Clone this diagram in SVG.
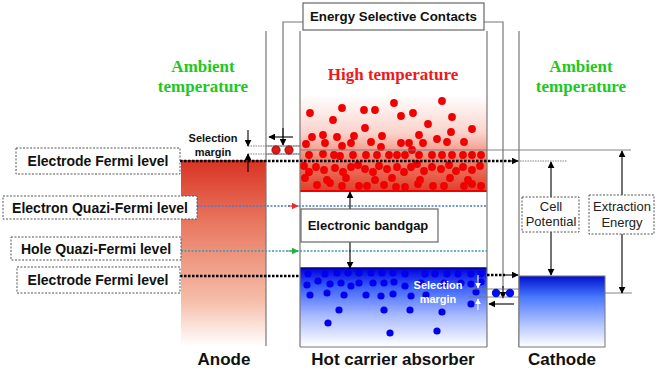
<svg xmlns="http://www.w3.org/2000/svg" width="668" height="370" viewBox="0 0 668 370">
<defs>
<linearGradient id="gRedTop" x1="0" y1="0" x2="0" y2="1">
<stop offset="0" stop-color="#ffffff"/>
<stop offset="0.4" stop-color="#fad2ca"/>
<stop offset="0.7" stop-color="#ef7a64"/>
<stop offset="1" stop-color="#e0402c"/>
</linearGradient>
<linearGradient id="gAnode" x1="0" y1="0" x2="0" y2="1">
<stop offset="0" stop-color="#d93323"/>
<stop offset="0.35" stop-color="#e97a62"/>
<stop offset="0.75" stop-color="#f5bca8"/>
<stop offset="1" stop-color="#ffffff"/>
</linearGradient>
<linearGradient id="gBlue" x1="0" y1="0" x2="0" y2="1">
<stop offset="0" stop-color="#0000d8"/>
<stop offset="0.25" stop-color="#3a60ff"/>
<stop offset="0.6" stop-color="#a6b8ff"/>
<stop offset="1" stop-color="#ffffff"/>
</linearGradient>
<linearGradient id="gCath" x1="0" y1="0" x2="0" y2="1">
<stop offset="0" stop-color="#0010d0"/>
<stop offset="0.3" stop-color="#4a78ff"/>
<stop offset="0.7" stop-color="#b8c8ff"/>
<stop offset="1" stop-color="#ffffff"/>
</linearGradient>
<marker id="ah" viewBox="0 0 10 10" refX="9" refY="5" markerWidth="7" markerHeight="7" orient="auto-start-reverse" markerUnits="userSpaceOnUse"><path d="M0,0 L10,5 L0,10 z" fill="#000"/></marker>
<marker id="ahW" viewBox="0 0 10 10" refX="9" refY="5" markerWidth="6" markerHeight="6" orient="auto-start-reverse" markerUnits="userSpaceOnUse"><path d="M0,0 L10,5 L0,10 z" fill="#fff"/></marker>
<marker id="ahR" viewBox="0 0 10 10" refX="9" refY="5" markerWidth="7" markerHeight="7" orient="auto" markerUnits="userSpaceOnUse"><path d="M0,0 L10,5 L0,10 z" fill="#e03030"/></marker>
<marker id="ahG" viewBox="0 0 10 10" refX="9" refY="5" markerWidth="7" markerHeight="7" orient="auto" markerUnits="userSpaceOnUse"><path d="M0,0 L10,5 L0,10 z" fill="#20b040"/></marker>
</defs>
<style>
.lbl{font-family:"Liberation Sans",Arial,sans-serif;font-weight:bold;font-size:14px;fill:#111;text-anchor:middle}
.big{font-family:"Liberation Sans",Arial,sans-serif;font-weight:bold;font-size:17px;fill:#111;text-anchor:middle}
.reg{font-family:"Liberation Sans",Arial,sans-serif;font-size:13px;fill:#222;text-anchor:middle}
.sm{font-family:"Liberation Sans",Arial,sans-serif;font-weight:bold;font-size:11px;fill:#111;text-anchor:middle}
.smw{font-family:"Liberation Sans",Arial,sans-serif;font-weight:bold;font-size:11px;fill:#fff;text-anchor:middle}
.grn{font-family:"Liberation Serif","Times New Roman",serif;font-weight:bold;font-size:17px;fill:#1ec81e;text-anchor:middle}
.hot{font-family:"Liberation Serif","Times New Roman",serif;font-weight:bold;font-size:17px;fill:#f01818;text-anchor:middle}
.dbox{fill:#fff;stroke:#555;stroke-width:1;stroke-dasharray:2 1.5}
.sbox{fill:#fff;stroke:#666;stroke-width:1.2}
.vl{stroke:#777;stroke-width:1.2;fill:none}
.thin{stroke:#777;stroke-width:0.9;fill:none}
.dthin{stroke:#777;stroke-width:0.9;stroke-dasharray:1.5 1;fill:none}
.blk{stroke:#000;stroke-width:1.1;fill:none}
.fermi{stroke:#000;stroke-width:2.4;stroke-dasharray:2.5 1.5;fill:none}
.eq{stroke:#4a7ad0;stroke-width:1.6;stroke-dasharray:2 1.5;fill:none}
.hq{stroke:#3a9ab0;stroke-width:1.6;stroke-dasharray:2 1.5;fill:none}
.rd{fill:#f00000}
.bd{fill:#0000ee}
</style>

<g id="regions">
<rect x="181" y="160" width="85" height="186" fill="url(#gAnode)"/>
<rect x="300" y="95" width="187" height="96" fill="url(#gRedTop)"/>
<rect x="300" y="268" width="187" height="78" fill="url(#gBlue)"/>
<line x1="300" y1="191" x2="487" y2="191" stroke="#f00000" stroke-width="2"/>
<line x1="300" y1="268" x2="487" y2="268" stroke="#000090" stroke-width="1.5"/>
</g>

<g id="frame-lines">
<line class="vl" x1="266" y1="31" x2="266" y2="346"/>
<line class="vl" x1="300" y1="31" x2="300" y2="347"/>
<line class="vl" x1="487" y1="31" x2="487" y2="347"/>
<line class="vl" x1="519" y1="31" x2="519" y2="347"/>
<line class="vl" x1="300" y1="347" x2="487" y2="347"/>
</g>

<g id="red-dots">
<circle class="rd" cx="310" cy="113" r="3.9"/><circle class="rd" cx="333" cy="120" r="3.9"/><circle class="rd" cx="342" cy="108" r="3.9"/><circle class="rd" cx="364" cy="110" r="3.9"/><circle class="rd" cx="375" cy="110" r="3.9"/><circle class="rd" cx="394" cy="103" r="3.9"/><circle class="rd" cx="401" cy="116" r="3.9"/><circle class="rd" cx="413" cy="113" r="3.9"/><circle class="rd" cx="428" cy="124" r="3.9"/><circle class="rd" cx="442" cy="101" r="3.9"/><circle class="rd" cx="452" cy="117" r="3.9"/><circle class="rd" cx="365" cy="128" r="3.9"/><circle class="rd" cx="472" cy="129" r="3.9"/>
<circle class="rd" cx="312" cy="137" r="3.9"/><circle class="rd" cx="323" cy="135" r="3.9"/><circle class="rd" cx="306" cy="144" r="3.9"/><circle class="rd" cx="325" cy="143" r="3.9"/><circle class="rd" cx="337" cy="137" r="3.9"/><circle class="rd" cx="342" cy="146" r="3.9"/><circle class="rd" cx="351" cy="143" r="3.9"/><circle class="rd" cx="354" cy="136" r="3.9"/><circle class="rd" cx="371" cy="142" r="3.9"/><circle class="rd" cx="382" cy="136" r="3.9"/><circle class="rd" cx="381" cy="147" r="3.9"/><circle class="rd" cx="401" cy="143" r="3.9"/><circle class="rd" cx="409" cy="143" r="3.9"/><circle class="rd" cx="412" cy="150" r="3.9"/><circle class="rd" cx="419" cy="135" r="3.9"/><circle class="rd" cx="423" cy="143" r="3.9"/><circle class="rd" cx="437" cy="139" r="3.9"/><circle class="rd" cx="447" cy="142" r="3.9"/><circle class="rd" cx="451" cy="132" r="3.9"/><circle class="rd" cx="464" cy="142" r="3.9"/>
<circle class="rd" cx="309" cy="155" r="3.9"/><circle class="rd" cx="323" cy="154" r="3.9"/><circle class="rd" cx="334" cy="155" r="3.9"/><circle class="rd" cx="340" cy="156" r="3.9"/><circle class="rd" cx="353" cy="155" r="3.9"/><circle class="rd" cx="366" cy="155" r="3.9"/><circle class="rd" cx="377" cy="155" r="3.9"/><circle class="rd" cx="389" cy="155" r="3.9"/><circle class="rd" cx="397" cy="155" r="3.9"/><circle class="rd" cx="405" cy="155" r="3.9"/><circle class="rd" cx="419" cy="155" r="3.9"/><circle class="rd" cx="432" cy="155" r="3.9"/><circle class="rd" cx="442" cy="155" r="3.9"/><circle class="rd" cx="452" cy="155" r="3.9"/><circle class="rd" cx="463" cy="155" r="3.9"/><circle class="rd" cx="472" cy="155" r="3.9"/><circle class="rd" cx="481" cy="155" r="3.9"/>
<circle class="rd" cx="304" cy="166" r="3.9"/><circle class="rd" cx="309" cy="172" r="3.9"/><circle class="rd" cx="316" cy="167" r="3.9"/><circle class="rd" cx="324" cy="170" r="3.9"/><circle class="rd" cx="335" cy="168" r="3.9"/><circle class="rd" cx="343" cy="172" r="3.9"/><circle class="rd" cx="351" cy="167" r="3.9"/><circle class="rd" cx="358" cy="165" r="3.9"/><circle class="rd" cx="365" cy="169" r="3.9"/><circle class="rd" cx="373" cy="172" r="3.9"/><circle class="rd" cx="379" cy="166" r="3.9"/><circle class="rd" cx="387" cy="169" r="3.9"/><circle class="rd" cx="397" cy="167" r="3.9"/><circle class="rd" cx="404" cy="172" r="3.9"/><circle class="rd" cx="411" cy="167" r="3.9"/><circle class="rd" cx="417" cy="164" r="3.9"/><circle class="rd" cx="424" cy="171" r="3.9"/><circle class="rd" cx="432" cy="167" r="3.9"/><circle class="rd" cx="441" cy="169" r="3.9"/><circle class="rd" cx="449" cy="165" r="3.9"/><circle class="rd" cx="456" cy="171" r="3.9"/><circle class="rd" cx="463" cy="167" r="3.9"/><circle class="rd" cx="472" cy="170" r="3.9"/><circle class="rd" cx="480" cy="166" r="3.9"/>
<circle class="rd" cx="305" cy="178" r="3.9"/><circle class="rd" cx="327" cy="180" r="3.9"/><circle class="rd" cx="346" cy="178" r="3.9"/><circle class="rd" cx="375" cy="180" r="3.9"/><circle class="rd" cx="392" cy="178" r="3.9"/><circle class="rd" cx="420" cy="180" r="3.9"/><circle class="rd" cx="450" cy="178" r="3.9"/><circle class="rd" cx="468" cy="180" r="3.9"/>
<circle class="rd" cx="317" cy="185" r="3.9"/><circle class="rd" cx="330" cy="183" r="3.9"/><circle class="rd" cx="342" cy="186" r="3.9"/><circle class="rd" cx="359" cy="186" r="3.9"/><circle class="rd" cx="367" cy="186" r="3.9"/><circle class="rd" cx="384" cy="185" r="3.9"/><circle class="rd" cx="396" cy="187" r="3.9"/><circle class="rd" cx="405" cy="187" r="3.9"/><circle class="rd" cx="418" cy="184" r="3.9"/><circle class="rd" cx="433" cy="186" r="3.9"/><circle class="rd" cx="444" cy="186" r="3.9"/><circle class="rd" cx="464" cy="186" r="3.9"/><circle class="rd" cx="472" cy="184" r="3.9"/><circle class="rd" cx="481" cy="186" r="3.9"/>
</g>

<g id="blue-dots">
<circle class="bd" cx="308" cy="274" r="3.6"/><circle class="bd" cx="325" cy="274" r="3.6"/><circle class="bd" cx="337" cy="273" r="3.6"/><circle class="bd" cx="348" cy="273" r="3.6"/><circle class="bd" cx="359" cy="273" r="3.6"/><circle class="bd" cx="371" cy="273" r="3.6"/><circle class="bd" cx="382" cy="273" r="3.6"/><circle class="bd" cx="393" cy="273" r="3.6"/><circle class="bd" cx="405" cy="274" r="3.6"/><circle class="bd" cx="425" cy="274" r="3.6"/><circle class="bd" cx="435" cy="274" r="3.6"/><circle class="bd" cx="447" cy="274" r="3.6"/><circle class="bd" cx="458" cy="274" r="3.6"/><circle class="bd" cx="471" cy="274" r="3.6"/><circle class="bd" cx="481" cy="274" r="3.6"/>
<circle class="bd" cx="307" cy="285" r="3.6"/><circle class="bd" cx="318" cy="281" r="3.6"/><circle class="bd" cx="330" cy="284" r="3.6"/><circle class="bd" cx="341" cy="283" r="3.6"/><circle class="bd" cx="351" cy="286" r="3.6"/><circle class="bd" cx="359" cy="283" r="3.6"/><circle class="bd" cx="373" cy="283" r="3.6"/><circle class="bd" cx="384" cy="283" r="3.6"/><circle class="bd" cx="394" cy="282" r="3.6"/><circle class="bd" cx="405" cy="286" r="3.6"/><circle class="bd" cx="421" cy="283" r="3.6"/><circle class="bd" cx="444" cy="283" r="3.6"/><circle class="bd" cx="461" cy="283" r="3.6"/><circle class="bd" cx="471" cy="284" r="3.6"/><circle class="bd" cx="481" cy="282" r="3.6"/>
<circle class="bd" cx="310" cy="295" r="3.6"/><circle class="bd" cx="327" cy="293" r="3.6"/><circle class="bd" cx="344" cy="295" r="3.6"/><circle class="bd" cx="366" cy="295" r="3.6"/><circle class="bd" cx="381" cy="296" r="3.6"/><circle class="bd" cx="393" cy="294" r="3.6"/><circle class="bd" cx="411" cy="296" r="3.6"/><circle class="bd" cx="426" cy="295" r="3.6"/><circle class="bd" cx="476" cy="292" r="3.6"/>
<circle class="bd" cx="339" cy="310" r="3.6"/><circle class="bd" cx="384" cy="310" r="3.6"/><circle class="bd" cx="410" cy="310" r="3.6"/><circle class="bd" cx="442" cy="312" r="3.6"/><circle class="bd" cx="471" cy="304" r="3.6"/>
<circle class="bd" cx="328" cy="323" r="3.6"/><circle class="bd" cx="390" cy="333" r="3.6"/><circle class="bd" cx="437" cy="331" r="3.6"/>
</g>

<g id="cathode">
<rect x="519" y="276" width="86" height="71" fill="url(#gCath)" stroke="#777" stroke-width="1"/>
</g>

<g id="connectors">
<polyline class="vl" points="303,22 283,22 283,138"/>
<line class="blk" x1="283" y1="128" x2="283" y2="145" marker-end="url(#ah)"/>
<polyline class="vl" points="484,22 503,22 503,290"/>
<line class="blk" x1="503" y1="286" x2="503" y2="298" marker-end="url(#ah)"/>
<line class="dthin" x1="248" y1="146" x2="300" y2="146"/>
<line class="dthin" x1="248" y1="154" x2="300" y2="154"/>
<line class="thin" x1="266" y1="146" x2="300" y2="146"/>
<line class="thin" x1="266" y1="154" x2="300" y2="154"/>
<line class="thin" x1="300" y1="150" x2="631" y2="150"/>
<line class="dthin" x1="515" y1="161" x2="567" y2="161"/>
<line class="thin" x1="605" y1="293" x2="632" y2="293"/>
<line class="thin" x1="468" y1="289" x2="519" y2="289"/>
<line class="thin" x1="468" y1="297" x2="519" y2="297"/>
<line class="fermi" x1="180" y1="161" x2="512" y2="161"/>
<line class="blk" x1="508" y1="161" x2="518" y2="161" marker-end="url(#ah)"/>
<line class="fermi" x1="180" y1="276" x2="300" y2="276"/>
<line class="fermi" x1="487" y1="275" x2="505" y2="275"/>
<line class="blk" x1="503" y1="275" x2="518" y2="275" marker-end="url(#ah)"/>
<line class="eq" x1="197" y1="206" x2="487" y2="206"/>
<line x1="288" y1="206" x2="298" y2="206" stroke="#e03030" stroke-width="1" marker-end="url(#ahR)"/>
<line class="hq" x1="181" y1="251" x2="487" y2="251"/>
<line x1="288" y1="251" x2="298" y2="251" stroke="#20b040" stroke-width="1" marker-end="url(#ahG)"/>
<circle cx="276" cy="150" r="4.2" fill="#e01818" stroke="#600" stroke-width="0.6"/>
<circle cx="289" cy="150" r="4.2" fill="#e01818" stroke="#600" stroke-width="0.6"/>
<circle cx="496" cy="293" r="4.2" fill="#0010e8"/>
<circle cx="510" cy="293" r="4.2" fill="#0010e8"/>
<line class="blk" x1="293" y1="137" x2="269" y2="137" marker-end="url(#ah)"/>
<line class="blk" x1="514" y1="304" x2="489" y2="304" marker-end="url(#ah)"/>
<line class="blk" x1="248" y1="130" x2="248" y2="146" marker-end="url(#ah)"/>
<line class="blk" x1="248" y1="172" x2="248" y2="154" marker-end="url(#ah)"/>
<line x1="478" y1="275" x2="478" y2="288" stroke="#fff" stroke-width="1.1" marker-end="url(#ahW)"/>
<line x1="478" y1="310" x2="478" y2="299" stroke="#fff" stroke-width="1.1" marker-end="url(#ahW)"/>
<line class="blk" x1="350" y1="209" x2="350" y2="192" marker-end="url(#ah)"/>
<line class="blk" x1="350" y1="242" x2="350" y2="268" marker-end="url(#ah)"/>
<line class="blk" x1="551" y1="162" x2="551" y2="275" marker-start="url(#ah)" marker-end="url(#ah)"/>
<line class="blk" x1="622" y1="151" x2="622" y2="293" marker-start="url(#ah)" marker-end="url(#ah)"/>
</g>

<g id="esc">
<rect class="sbox" x="303" y="3" width="181" height="27"/>
<text class="lbl" x="393.5" y="21" style="font-size:13.3px">Energy Selective Contacts</text>
</g>

<g id="temps">
<text class="grn" x="203" y="72">Ambient</text>
<text class="grn" x="203" y="92">temperature</text>
<text class="hot" x="393" y="80">High temperature</text>
<text class="grn" x="581" y="72">Ambient</text>
<text class="grn" x="581" y="92">temperature</text>
</g>

<g id="label-electrode-top">
<rect class="dbox" x="16" y="148" width="164" height="26"/>
<text class="lbl" x="98" y="166">Electrode Fermi level</text>
</g>
<g id="label-electron">
<rect class="dbox" x="3" y="196" width="194" height="23"/>
<text class="lbl" x="100" y="212.5">Electron Quazi-Fermi level</text>
</g>
<g id="label-hole">
<rect class="dbox" x="11" y="237" width="170" height="23"/>
<text class="lbl" x="96" y="253.5">Hole Quazi-Fermi level</text>
</g>
<g id="label-electrode-bottom">
<rect class="dbox" x="17" y="267" width="163" height="26"/>
<text class="lbl" x="98" y="285">Electrode Fermi level</text>
</g>

<g id="selection-margin-top">
<text class="sm" x="213" y="142">Selection</text>
<text class="sm" x="213" y="156">margin</text>
</g>
<g id="selection-margin-bottom">
<text class="smw" x="438" y="289">Selection</text>
<text class="smw" x="438" y="303">margin</text>
</g>

<g id="bandgap">
<rect class="sbox" x="301" y="209" width="137" height="33"/>
<text class="lbl" x="368" y="230" style="font-size:13px">Electronic bandgap</text>
</g>

<g id="cell-potential">
<rect class="dbox" x="522" y="197" width="57" height="35"/>
<text class="reg" x="551" y="211">Cell</text>
<text class="reg" x="551" y="226">Potential</text>
</g>
<g id="extraction-energy">
<rect class="dbox" x="589" y="195" width="65" height="39"/>
<text class="reg" x="622" y="211">Extraction</text>
<text class="reg" x="622" y="227">Energy</text>
</g>

<g id="bottom-labels">
<text class="big" x="224" y="365">Anode</text>
<text class="big" x="393" y="365">Hot carrier absorber</text>
<text class="big" x="562" y="365">Cathode</text>
</g>
</svg>
